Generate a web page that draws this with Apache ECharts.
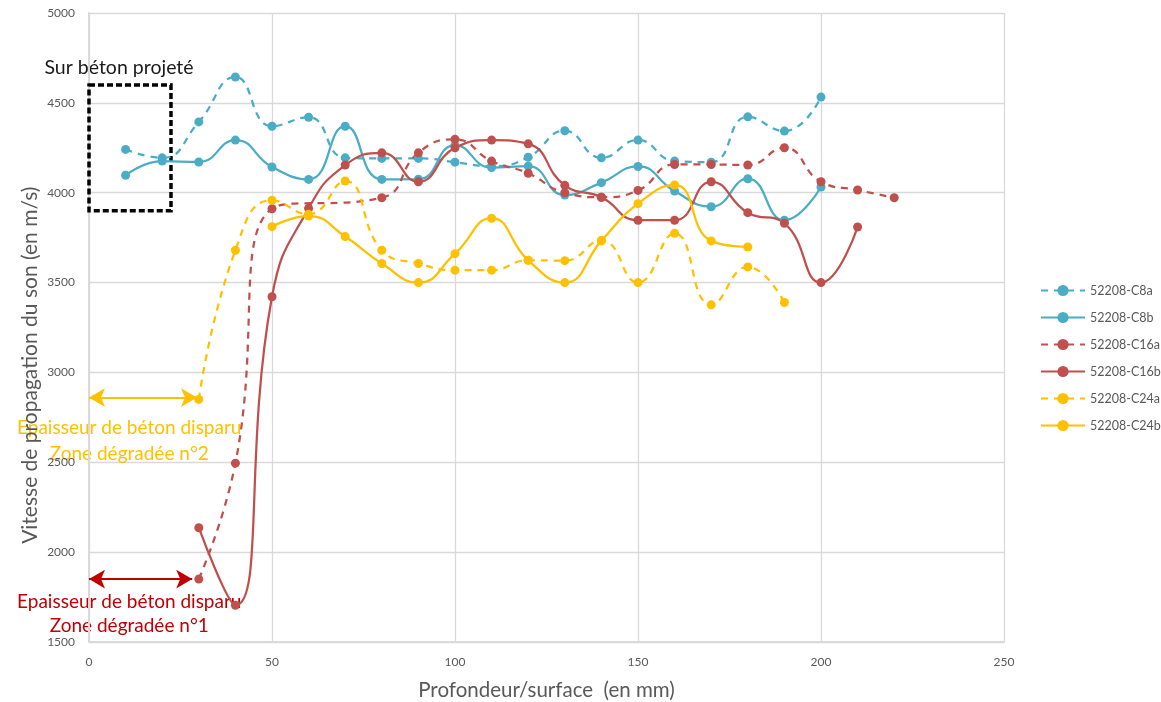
<!DOCTYPE html>
<html>
<head>
<meta charset="utf-8">
<script src="https://cdn.jsdelivr.net/npm/echarts@6/dist/echarts.min.js"></script>
<style>
html,body{margin:0;padding:0;background:#fff;}
#c{width:1161px;height:702px;}
</style>
</head>
<body>
<div id="c"></div>
<script>
// ---- data ----
const seriesNames = ['52208-C8a','52208-C8b','52208-C16a','52208-C16b','52208-C24a','52208-C24b'];
const xC8 = [10,20,30,40,50,60,70,80,90,100,110,120,130,140,150,160,170,180,190,200];
const c8a = [4241,4194,4394,4644,4370,4420,4194,4191,4191,4170,4147,4198,4345,4194,4293,4176,4170,4422,4343,4532];
const c8b = [4097,4176,4171,4293,4143,4074,4370,4074,4075,4265,4140,4148,3987,4056,4146,4009,3922,4078,3847,4032];
const xC16a = [30,40,50,80,90,100,110,120,130,140,150,160,170,180,190,200,210,220];
const c16a = [1850,2495,3911,3972,4222,4297,4176,4108,4000,3975,4013,4157,4157,4154,4250,4061,4015,3972];
const xC16b = [30,40,50,60,70,80,90,100,110,120,130,140,150,160,170,180,190,200,210];
const c16b = [2136,1704,3421,3913,4154,4222,4061,4250,4293,4272,4041,3975,3847,3847,4061,3889,3830,3500,3809];
const xC24a = [30,40,50,60,70,80,90,100,110,120,130,140,150,160,170,180,190];
const c24a = [2850,3680,3958,3880,4065,3680,3606,3569,3569,3624,3622,3735,3500,3774,3376,3587,3389];
const xC24b = [50,60,70,80,90,100,110,120,130,140,150,160,170,180];
const c24b = [3811,3870,3756,3606,3500,3661,3858,3624,3500,3732,3939,4043,3732,3698];
const xTicks = [0,50,100,150,200,250];
const yTicks = [1500,2000,2500,3000,3500,4000,4500,5000];
// annotation anchors (data units)
const boxX = [0, 22.4];
const boxY = [3900, 4600];
const arrow2 = {y: 2860, x0: 0, x1: 29.5};
const arrow1 = {y: 1850, x0: 0, x1: 28.2};

const blue = '#4BACC6', red = '#C0504D', yellow = '#FFC000', darkRed = '#C00000';
const FONT = 'Lato, "Open Sans", sans-serif';

function pairs(xs, ys){ return xs.map((x,i)=>[x, ys[i]]); }

function mkSeries(name, xs, ys, color, dashed){
  return {
    name, type:'line', data: pairs(xs, ys), smooth: 0.5,
    symbol:'circle', symbolSize: 9,
    lineStyle:{color, width:2.25, type: dashed ? [7,6] : 'solid'},
    itemStyle:{color},
    emphasis:{disabled:true}
  };
}

const chart = echarts.init(document.getElementById('c'), null, {renderer:'canvas'});
const option = {
  animation:false,
  backgroundColor:'#fff',
  grid:{left:89, right:157, top:13, bottom:60, containLabel:false},
  xAxis:{
    type:'value', min:xTicks[0], max:xTicks[xTicks.length-1], interval:50,
    axisLine:{show:true, lineStyle:{color:'#d9d9d9', width:2}},
    axisTick:{show:false},
    axisLabel:{fontFamily:FONT, fontSize:12, color:'#595959', margin:14, formatter: v => String(v)},
    splitLine:{show:true, lineStyle:{color:'#d9d9d9', width:1.3}}
  },
  yAxis:{
    type:'value', min:yTicks[0], max:yTicks[yTicks.length-1], interval:500,
    axisLine:{show:true, lineStyle:{color:'#d9d9d9', width:2}},
    axisTick:{show:false},
    axisLabel:{fontFamily:FONT, fontSize:12, color:'#595959', margin:14, formatter: v => String(v)},
    splitLine:{show:true, lineStyle:{color:'#d9d9d9', width:1.3}}
  },
  legend:{
    orient:'vertical', left:1035, top:279, itemGap:14, itemWidth:44, itemHeight:14,
    data: seriesNames,
    textStyle:{fontFamily:FONT, fontSize:12.5, color:'#595959'}
  },
  series:[
    mkSeries(seriesNames[0], xC8, c8a, blue, true),
    mkSeries(seriesNames[1], xC8, c8b, blue, false),
    mkSeries(seriesNames[2], xC16a, c16a, red, true),
    mkSeries(seriesNames[3], xC16b, c16b, red, false),
    mkSeries(seriesNames[4], xC24a, c24a, yellow, true),
    mkSeries(seriesNames[5], xC24b, c24b, yellow, false),
    {
      name:'annot', type:'line', data:[], silent:true,
      markArea:{
        silent:true,
        itemStyle:{color:'rgba(0,0,0,0)', borderColor:'#000', borderWidth:3.5, borderType:[6,3]},
        data:[[{coord:[boxX[0], boxY[1]]},{coord:[boxX[1], boxY[0]]}]]
      },
      markLine:{
        silent:true, symbol:['arrow','arrow'], symbolSize:[14,16],
        label:{show:false},
        data:[
          [{coord:[arrow2.x0, arrow2.y], lineStyle:{color:yellow, width:2, type:'solid'}, itemStyle:{color:yellow}},{coord:[arrow2.x1, arrow2.y]}],
          [{coord:[arrow1.x0, arrow1.y], lineStyle:{color:darkRed, width:2, type:'solid'}, itemStyle:{color:darkRed}},{coord:[arrow1.x1, arrow1.y]}]
        ]
      }
    }
  ]
};
chart.setOption(option);

// annotation text positioned from data anchors
const p = (x,y)=>chart.convertToPixel({gridIndex:0},[x,y]);
const t1 = p(8.2, 4695), ty1 = p(11, 2690), ty2 = p(11, 2545), tr1 = p(11, 1725), tr2 = p(11, 1592);
const xt = p(125, 1500), yt = p(0, 3040);
chart.setOption({graphic:[
  {type:'text', x:t1[0], y:t1[1], style:{text:'Sur béton projeté', font:'19.5px '+FONT, fill:'#1a1a1a', align:'center', verticalAlign:'middle'}},
  {type:'text', x:ty1[0], y:ty1[1], style:{text:'Epaisseur de béton disparu', font:'19px '+FONT, fill:yellow, align:'center', verticalAlign:'middle'}},
  {type:'text', x:ty2[0], y:ty2[1], style:{text:'Zone dégradée n°2', font:'19px '+FONT, fill:yellow, align:'center', verticalAlign:'middle'}},
  {type:'text', x:tr1[0], y:tr1[1], style:{text:'Epaisseur de béton disparu', font:'19px '+FONT, fill:darkRed, align:'center', verticalAlign:'middle'}},
  {type:'text', x:tr2[0], y:tr2[1], style:{text:'Zone dégradée n°1', font:'19px '+FONT, fill:darkRed, align:'center', verticalAlign:'middle'}},
  {type:'text', x:xt[0], y:xt[1]+48, style:{text:'Profondeur/surface  (en mm)', font:'20.5px '+FONT, fill:'#595959', align:'center', verticalAlign:'middle'}},
  {type:'text', x:30, y:yt[1], rotation:Math.PI/2, style:{text:'Vitesse de propagation du son (en m/s)', font:'21px '+FONT, fill:'#595959', align:'center', verticalAlign:'middle'}}
]});
</script>
</body>
</html>
